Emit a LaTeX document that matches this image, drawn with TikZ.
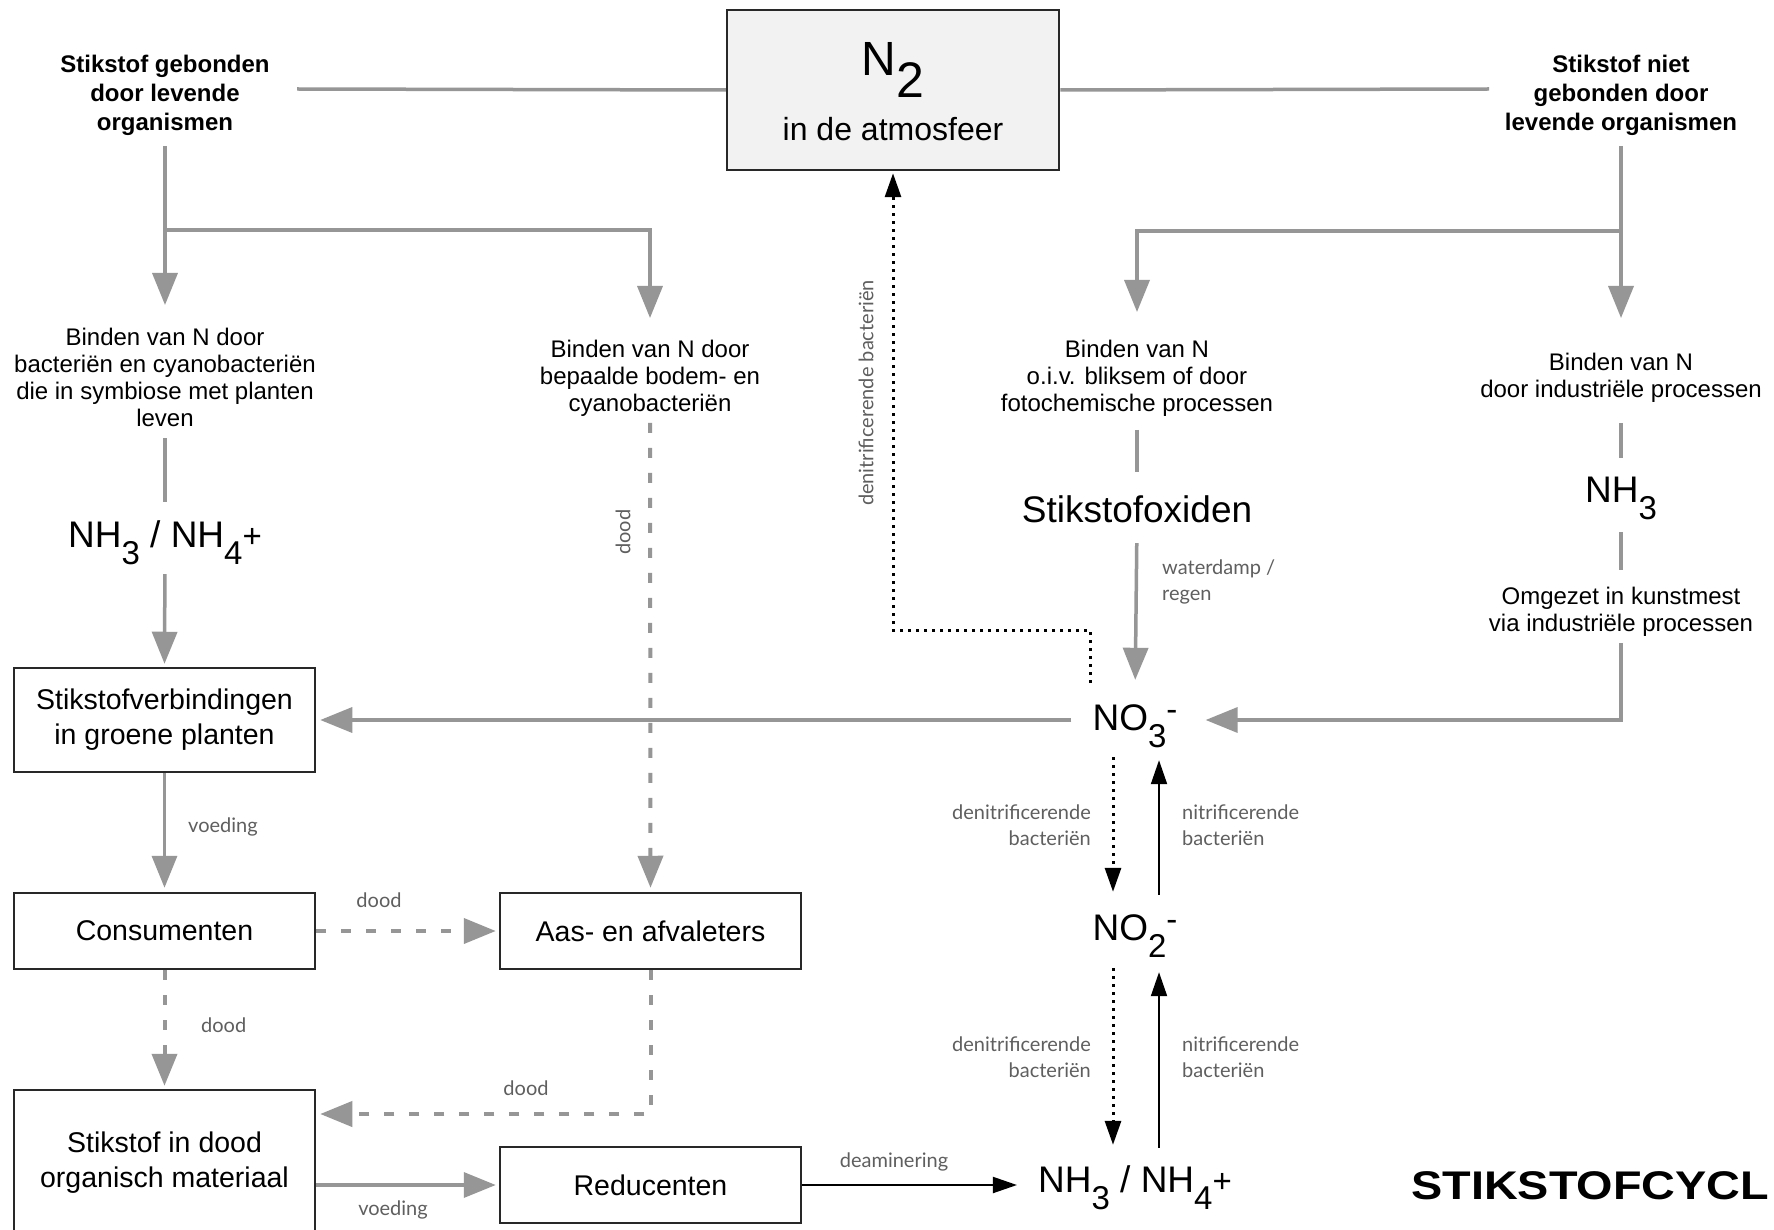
\documentclass[tikz,border=0pt]{standalone}
\usepackage{fontspec}
\usepackage{graphicx}
\setmainfont{Liberation Sans}
\newfontfamily\labfont{Lato}
\usetikzlibrary{arrows.meta}
\definecolor{lg}{RGB}{150,150,150}
\definecolor{bc}{RGB}{40,40,40}
\definecolor{lt}{RGB}{95,95,95}
\definecolor{nfill}{RGB}{242,242,242}
\newcommand{\chsub}[1]{\raisebox{-17pt}{\fontsize{33}{33}\selectfont #1}}
\newcommand{\chsup}[1]{\raisebox{10pt}{\fontsize{33}{33}\selectfont #1}}
\begin{document}
\begin{tikzpicture}[x=1pt,y=-1pt,
  gline/.style={draw=lg, line width=3.5pt},
  garrow/.style={gline, -{Triangle[width=25pt,length=32pt]}},
  gdash/.style={draw=lg, line width=4pt, dash pattern=on 10pt off 15pt, -{Triangle[width=25pt,length=32pt]}},
  karrow/.style={draw=black, line width=2pt, -{Triangle[width=16pt,length=24pt]}},
  kdot/.style={draw=black, line width=3pt, dash pattern=on 3pt off 5pt, -{Triangle[width=16pt,length=24pt]}},
  txt/.style={inner sep=0pt, align=center, font=\fontsize{24}{27}\selectfont},
  hdr/.style={inner sep=0pt, align=center, font=\bfseries\fontsize{24}{29}\selectfont},
  chem/.style={inner sep=0pt, font=\fontsize{37}{40}\selectfont, text height=27pt, text depth=0pt, anchor=base},
  box/.style={draw=bc, line width=2.5pt, minimum width=301pt, inner sep=0pt, align=center, font=\fontsize{28.5}{35}\selectfont},
  lbl/.style={inner sep=0pt, text=lt, font=\labfont\fontsize{20}{26}\selectfont}
]
\useasboundingbox[fill=white] (0,0) rectangle (1774,1230);

% N2 box
\node[draw=bc, fill=nfill, line width=2.5pt, minimum width=332pt, minimum height=160pt, inner sep=0pt] (n2) at (893,90) {};
\node[inner sep=0pt, anchor=base] (n2t) at (893,76) {\fontsize{48}{50}\selectfont N\raisebox{-22pt}{\fontsize{50}{50}\selectfont 2}};
\node[inner sep=0pt, anchor=base, font=\fontsize{32}{34}\selectfont] (n2s) at (893,141) {in de atmosfeer};

% headers
\node[hdr, anchor=north] (hl) at (165,55) {Stikstof gebonden\\door levende\\organismen};
\node[hdr, anchor=north] (hr) at (1621,55) {Stikstof niet\\gebonden door\\levende organismen};
\coordinate (hlend) at (297,89);
\coordinate (hrend) at (1489,89);
\draw[gline] (hlend) -- (n2.west);
\draw[gline] (n2.east) -- (hrend);

% text blocks
\node[txt, anchor=north] (bl) at (165,328) {Binden van N door\\bacteriën en cyanobacteriën\\die in symbiose met planten\\leven};
\node[txt, anchor=north] (bm) at (650,340) {Binden van N door\\bepaalde bodem- en\\cyanobacteriën};
\node[txt, anchor=north] (br1) at (1137,340) {Binden van N\\o.i.v. bliksem of door\\fotochemische processen};
\node[txt, anchor=north] (br2) at (1621,353) {Binden van N\\door industriële processen};
\node[txt, anchor=north] (omg) at (1621,587) {Omgezet in kunstmest\\via industriële processen};

% chemical nodes
\node[chem] (nh3l) at (165,547) {NH\chsub{3} / NH\chsub{4}{\fontsize{33}{33}\selectfont +}};
\node[chem] (sox) at (1137,522) {Stikstofoxiden};
\node[chem] (nh3r) at (1621,502) {NH\chsub{3}};
\node[chem] (no3) at (1135,730) {NO\chsub{3}\chsup{-}};
\node[chem] (no2) at (1135,940) {NO\chsub{2}\chsup{-}};
\node[chem] (nh3b) at (1135,1192) {NH\chsub{3} / NH\chsub{4}{\fontsize{33}{33}\selectfont +}};

% boxes
\node[box, minimum height=104pt] (sv) at (164.5,720) {Stikstofverbindingen\\in groene planten};
\node[box, minimum height=76pt] (con) at (164.5,931) {Consumenten};
\node[box, minimum height=76pt] (aas) at (650.5,931) {Aas- en afvaleters};
\node[box, minimum height=76pt] (red) at (650.5,1185) {Reducenten};
\begin{scope}
\clip (0,0) rectangle (1774,1230);
\node[box, minimum height=146pt] (dood) at (164.5,1163) {Stikstof in dood\\organisch materiaal};
\end{scope}

% top branches
\draw[garrow, shorten <=10pt, shorten >=23pt] (hl.south) -- (bl.north);
\coordinate (lbr) at (165,230);
\draw[garrow, shorten >=22pt] (lbr) -| (bm.north);
\draw[garrow, shorten <=10pt, shorten >=35pt] (hr.south) -- (br2.north);
\coordinate (rbr) at (1621,231);
\draw[garrow, shorten >=28pt] (rbr) -| (br1.north);

% left column
\draw[gline, shorten <=11pt, shorten >=18pt] (bl.south) -- (nh3l.north);
\draw[garrow, shorten <=27pt, shorten >=3pt] (nh3l.south) -- (sv.north);
\draw[garrow, shorten >=4pt] (sv.south) -- (con.north);
\node[lbl, anchor=west] (lv1) at (188,827) {voeding};
\draw[gdash, shorten >=3pt] (con.south) -- (dood.north);
\node[lbl, anchor=west] (ld1) at (201,1025) {dood};
\draw[gdash, shorten >=3pt] (con.east) -- (aas.west);
\node[lbl] (ld2) at (379,900) {dood};
\draw[gdash, shorten <=6pt, shorten >=4pt] (bm.south) -- (aas.north);
\node[lbl, rotate=90] (ld3) at (623,532) {dood};
\coordinate (abr) at (650.5,1114);
\draw[gdash, shorten >=4pt] (aas.south) -- (abr) -- (abr -| dood.east);
\node[lbl] (ld4) at (526,1088) {dood};
\draw[garrow, shorten >=3pt] (dood.east |- red.west) -- (red.west);
\node[lbl] (lv2) at (393,1210) {voeding};
\draw[karrow, shorten >=21pt] (red.east) -- (red.east -| nh3b.west);
\node[lbl] (lde) at (894,1162) {deaminering};

% right column
\draw[gline, shorten <=13pt, shorten >=23pt] (br1.south) -- (sox.north);
\draw[garrow, shorten <=21pt, shorten >=23pt] (sox.south) -- (no3.north);
\node[lbl, anchor=north west, align=left] (lwd) at (1162,560) {waterdamp /\\regen};
\draw[gline, shorten <=20pt, shorten >=17pt] (br2.south) -- (nh3r.north);
\draw[gline, shorten <=30pt, shorten >=17pt] (nh3r.south) -- (omg.north);
\coordinate (ibr) at (1621,720);
\draw[garrow, shorten <=6pt, shorten >=28pt] (omg.south) -- (ibr) -- (ibr -| no3.east);
\draw[garrow, shorten <=21pt, shorten >=4pt] (sv.east -| no3.west) -- (sv.east);

% denitrification to atmosphere
\coordinate (dst) at (1090,683);
\coordinate (dbr) at (1090,630);
\draw[kdot, shorten >=2pt] (dst) -- (dbr) -| (n2.south);
\node[lbl, rotate=90] (ldn) at (866,393) {denitrificerende bacteriën};

% NO3 <-> NO2 <-> NH3
\draw[kdot, shorten <=27pt, shorten >=21pt] ([xshift=-22pt]no3.south) -- ([xshift=-22pt]no2.north);
\draw[karrow, shorten <=18pt, shorten >=30pt] ([xshift=24pt]no2.north) -- ([xshift=24pt]no3.south);
\node[lbl, anchor=east, align=right] (lden1) at (1091,825) {denitrificerende\\bacteriën};
\node[lbl, anchor=west, align=left] (lnit1) at (1182,825) {nitrificerende\\bacteriën};
\draw[kdot, shorten <=28pt, shorten >=20pt] ([xshift=-22pt]no2.south) -- ([xshift=-22pt]nh3b.north);
\draw[karrow, shorten <=17pt, shorten >=32pt] ([xshift=24pt]nh3b.north) -- ([xshift=24pt]no2.south);
\node[lbl, anchor=east, align=right] (lden2) at (1091,1057) {denitrificerende\\bacteriën};
\node[lbl, anchor=west, align=left] (lnit2) at (1182,1057) {nitrificerende\\bacteriën};

% title
\node[inner sep=0pt, anchor=base west, font=\bfseries\fontsize{40}{40}\selectfont] (title) at (1411,1199) {\scalebox{1.17}[1]{STIKSTOFCYCL}};
\end{tikzpicture}
\end{document}
